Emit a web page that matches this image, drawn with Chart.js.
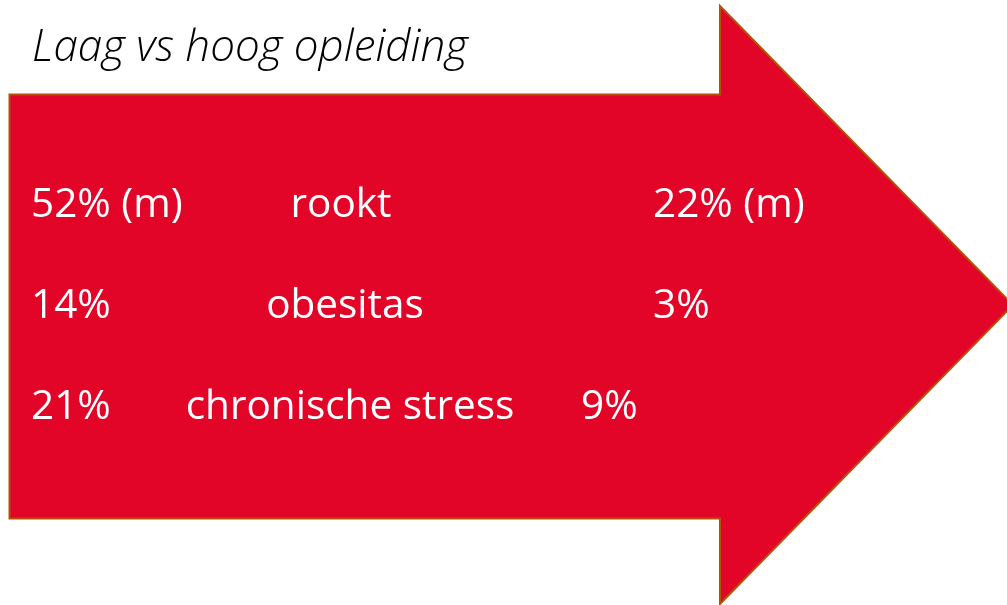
<!DOCTYPE html>
<html>
<head>
<meta charset="utf-8">
<script src="https://cdn.jsdelivr.net/npm/chart.js@4.4.1/dist/chart.umd.min.js"></script>
<style>
html,body{margin:0;padding:0;background:#fff;}
#wrap{width:1007px;height:605px;position:relative;}
</style>
</head>
<body>
<div id="wrap"><canvas id="c" width="1007" height="605"></canvas></div>
<script>
const title = "Laag vs hoog opleiding";
const categories = ["rookt", "obesitas", "chronische stress"];
const lowEducation = [52, 14, 21];
const highEducation = [22, 3, 9];
const suffixes = [" (m)", "", ""];

// layout (pixels) – not data
const labelLayout = {
  lowX: 31,
  catCenterX: [341, 345, 350],
  highX: [653, 653, 581],
  baselineOffset: 14
};

const arrowPlugin = {
  id: 'arrow',
  beforeDatasetsDraw(chart) {
    const ctx = chart.ctx;
    ctx.save();
    ctx.beginPath();
    ctx.moveTo(9.5, 94.5);
    ctx.lineTo(720, 94.5);
    ctx.lineTo(720, 6);
    ctx.lineTo(1013, 305);
    ctx.lineTo(720, 604);
    ctx.lineTo(720, 518.5);
    ctx.lineTo(9.5, 518.5);
    ctx.closePath();
    ctx.fillStyle = '#E30528';
    ctx.fill();
    ctx.lineWidth = 2;
    ctx.strokeStyle = '#B4520C';
    ctx.stroke();
    // title
    ctx.fillStyle = '#000';
    ctx.font = 'italic 300 44px "Open Sans"';
    ctx.textBaseline = 'alphabetic';
    ctx.textAlign = 'left';
    ctx.fillText(title, 32, 61);
    ctx.restore();
  },
  afterDatasetsDraw(chart) {
    const ctx = chart.ctx;
    const ys = chart.scales.y;
    ctx.save();
    ctx.fillStyle = '#fff';
    ctx.font = '40.5px "Open Sans"';
    ctx.textBaseline = 'alphabetic';
    categories.forEach((cat, i) => {
      const y = ys.getPixelForValue(i) + labelLayout.baselineOffset;
      ctx.textAlign = 'left';
      ctx.fillText(lowEducation[i] + '%' + suffixes[i], labelLayout.lowX, y);
      ctx.textAlign = 'center';
      ctx.fillText(cat, labelLayout.catCenterX[i], y);
      ctx.textAlign = 'left';
      ctx.fillText(highEducation[i] + '%' + suffixes[i], labelLayout.highX[i], y);
    });
    ctx.restore();
  }
};

new Chart(document.getElementById('c'), {
  type: 'scatter',
  data: {
    datasets: [
      { label: 'laag', data: lowEducation.map((v, i) => ({x: v, y: i})), pointRadius: 0 },
      { label: 'hoog', data: highEducation.map((v, i) => ({x: v, y: i})), pointRadius: 0 }
    ]
  },
  options: {
    responsive: false,
    animation: false,
    layout: { padding: 0 },
    plugins: { legend: { display: false }, tooltip: { enabled: false } },
    scales: {
      x: { display: false, min: 0, max: 100 },
      y: { display: false, reverse: true, min: -2.01, max: 3.98 }
    }
  },
  plugins: [arrowPlugin]
});
</script>
</body>
</html>
